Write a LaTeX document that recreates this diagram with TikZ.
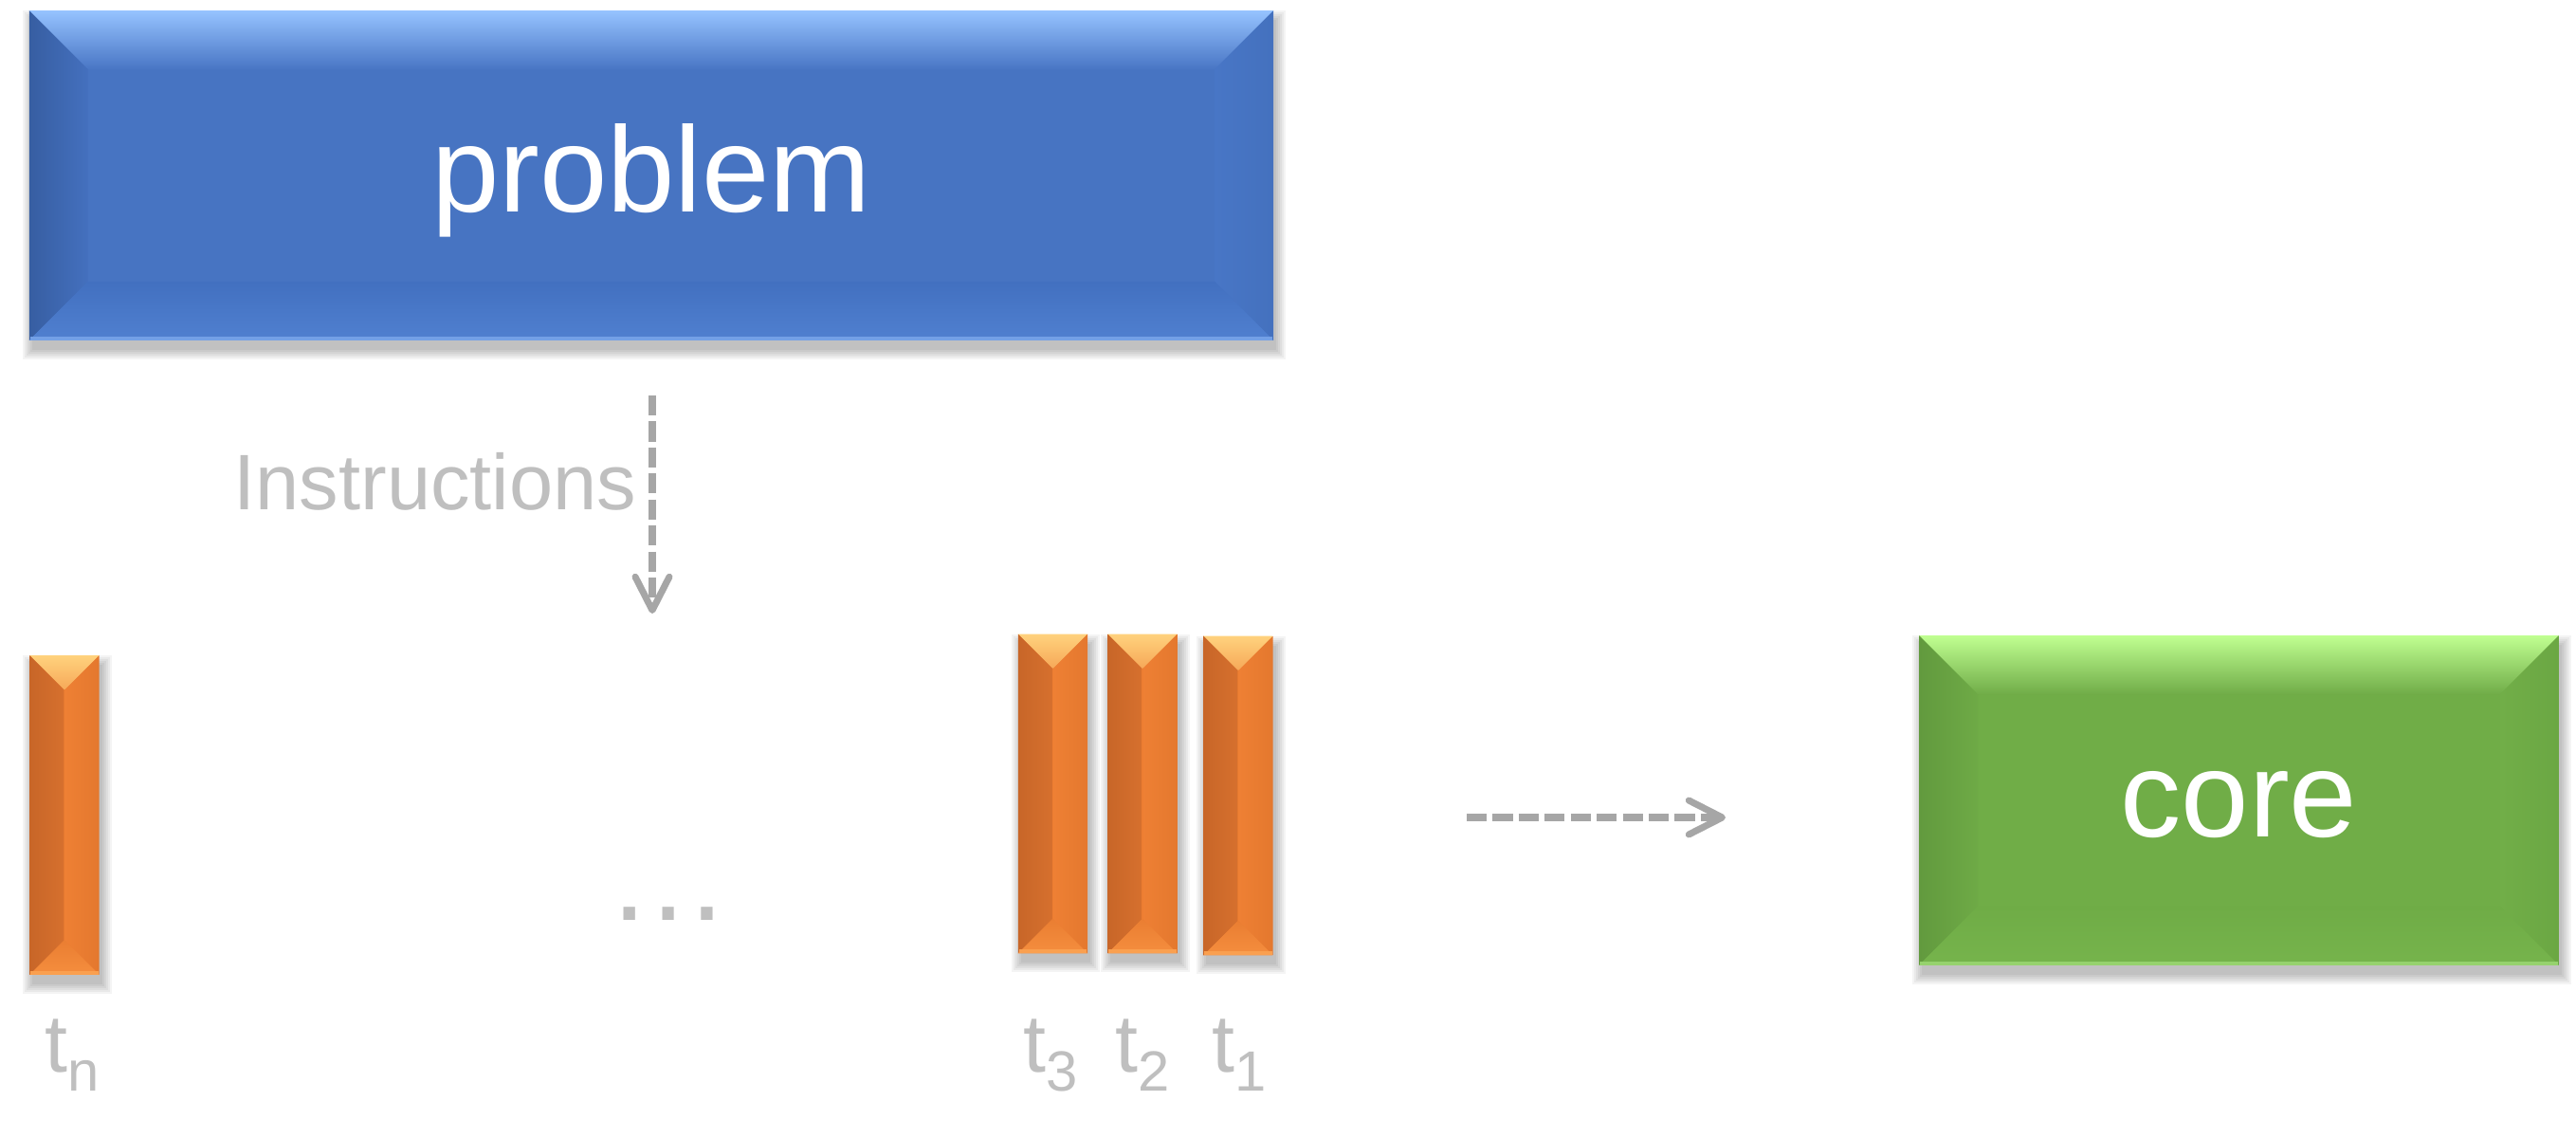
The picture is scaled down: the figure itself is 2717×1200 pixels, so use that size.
\documentclass[tikz,border=0pt]{standalone}
\usepackage{fontspec}
\setmainfont{Liberation Sans}
\usetikzlibrary{calc,arrows.meta,backgrounds}
% blue
\definecolor{BlBase}{RGB}{71,116,194}
\definecolor{BlTopO}{RGB}{150,195,255}
\definecolor{BlTopI}{RGB}{72,117,196}
\definecolor{BlLeftO}{RGB}{55,94,162}
\definecolor{BlLeftI}{RGB}{68,112,190}
\definecolor{BlBotO}{RGB}{80,128,208}
\definecolor{BlBotI}{RGB}{66,112,192}
\definecolor{BlRightO}{RGB}{68,113,190}
\definecolor{BlRightI}{RGB}{72,118,198}
\definecolor{BlEdge}{RGB}{115,160,230}
% green
\definecolor{GrBase}{RGB}{112,173,71}
\definecolor{GrTopO}{RGB}{192,255,145}
\definecolor{GrTopI}{RGB}{112,172,72}
\definecolor{GrLeftO}{RGB}{98,154,62}
\definecolor{GrLeftI}{RGB}{110,170,70}
\definecolor{GrBotO}{RGB}{118,180,76}
\definecolor{GrBotI}{RGB}{111,172,70}
\definecolor{GrRightO}{RGB}{107,167,67}
\definecolor{GrRightI}{RGB}{113,174,72}
\definecolor{GrEdge}{RGB}{150,210,110}
% orange
\definecolor{OrBase}{RGB}{237,125,49}
\definecolor{OrTopO}{RGB}{255,210,125}
\definecolor{OrTopI}{RGB}{246,168,88}
\definecolor{OrLeftO}{RGB}{200,102,40}
\definecolor{OrLeftI}{RGB}{214,112,46}
\definecolor{OrBotO}{RGB}{245,142,62}
\definecolor{OrBotI}{RGB}{234,126,50}
\definecolor{OrRightO}{RGB}{228,120,46}
\definecolor{OrRightI}{RGB}{238,128,52}
\definecolor{OrEdge}{RGB}{250,160,80}
% text and lines
\definecolor{LabelGray}{RGB}{191,191,191}
\definecolor{ArrowGray}{RGB}{166,166,166}

\newcommand\bevelfaces[3]{%
  \shade[top color=#3TopO, bottom color=#3TopI]
    (#1.north west) -- (#1.north east) -- ($(#1.north east)+(-#2,#2)$) -- ($(#1.north west)+(#2,#2)$) -- cycle;
  \shade[left color=#3LeftO, right color=#3LeftI]
    (#1.north west) -- ($(#1.north west)+(#2,#2)$) -- ($(#1.south west)+(#2,-#2)$) -- (#1.south west) -- cycle;
  \shade[left color=#3RightI, right color=#3RightO]
    (#1.north east) -- ($(#1.north east)+(-#2,#2)$) -- ($(#1.south east)+(-#2,-#2)$) -- (#1.south east) -- cycle;
  \shade[top color=#3BotI, bottom color=#3BotO]
    (#1.south west) -- ($(#1.south west)+(#2,-#2)$) -- ($(#1.south east)+(-#2,-#2)$) -- (#1.south east) -- cycle;
  \draw[#3Edge, line width=1.2pt] ($(#1.south west)+(1,-2)$) -- ($(#1.south east)+(-1,-2)$);
}
\newcommand\softshadow[1]{%
  \foreach \s in {0,2,4,6,8,10}{%
    \fill[black,opacity=0.045] ($(#1.north west)+(3-\s,10-\s)$) rectangle ($(#1.south east)+(3+\s,10+\s)$);
  }%
}
\newcommand\subl[1]{\raisebox{-5.8pt}{\fontsize{17}{17}\selectfont #1}}

\begin{document}
\begin{tikzpicture}[x=0.01cm,y=-0.01cm,
  box/.style={rectangle, inner sep=0pt, draw=none, text=white,
    font=\fontsize{36.5}{40}\selectfont, text height=26pt, text depth=4pt},
  bar/.style={rectangle, inner sep=0pt, draw=none, fill=OrBase,
    minimum width=0.72cm, minimum height=3.35cm},
  lbl/.style={text=LabelGray, font=\fontsize{24.5}{26}\selectfont, anchor=base, inner sep=0pt},
  flow/.style={draw=ArrowGray, line width=2pt, dash pattern=on 6pt off 1.8pt,
    -{Straight Barb[length=10pt,width=10.2pt,round]}}
]
\useasboundingbox (0,0) rectangle (2717,1200);

% boxes
\node[box, fill=BlBase, minimum width=13.10cm, minimum height=3.46cm] (problem) at (687,185) {problem};
\node[box, fill=GrBase, minimum width=6.73cm, minimum height=3.46cm] (core) at (2361.5,844) {core};

% bars
\node[bar] (tn) at (68,859.5) {};
\node[bar] (t3) at (1110.5,837) {};
\node[bar] (t2) at (1205,837) {};
\node[bar] (t1) at (1306,839) {};

% bevels
\bevelfaces{problem}{62}{Bl}
\bevelfaces{core}{62}{Gr}
\bevelfaces{tn}{36}{Or}
\bevelfaces{t3}{36}{Or}
\bevelfaces{t2}{36}{Or}
\bevelfaces{t1}{36}{Or}

% shadows
\begin{scope}[on background layer]
  \fill[white] (0,0) rectangle (2717,1200);
  \softshadow{problem}
  \softshadow{core}
  \softshadow{tn}
  \softshadow{t3}
  \softshadow{t2}
  \softshadow{t1}
\end{scope}

% labels
\node[lbl] (ltn) at (76,1130) {t\subl{n}};
\node[lbl] (lt3) at (1108,1130) {t\subl{3}};
\node[lbl] (lt2) at (1205,1130) {t\subl{2}};
\node[lbl] (lt1) at (1307,1130) {t\subl{1}};
\node[lbl, font=\fontsize{36.7}{40}\selectfont] (dots) at (705,970) {…};
\node[lbl, anchor=base west, font=\fontsize{23.6}{26}\selectfont] (instr) at (246,537) {Instructions};

% connectors
\coordinate (iS) at (688,417);
\coordinate (iE) at (688,647);
\draw[flow] (iS) -- (iE);
\coordinate (fS) at (1547,862);
\coordinate (fE) at (1820,862);
\draw[flow] (fS) -- (fE);
\end{tikzpicture}
\end{document}
